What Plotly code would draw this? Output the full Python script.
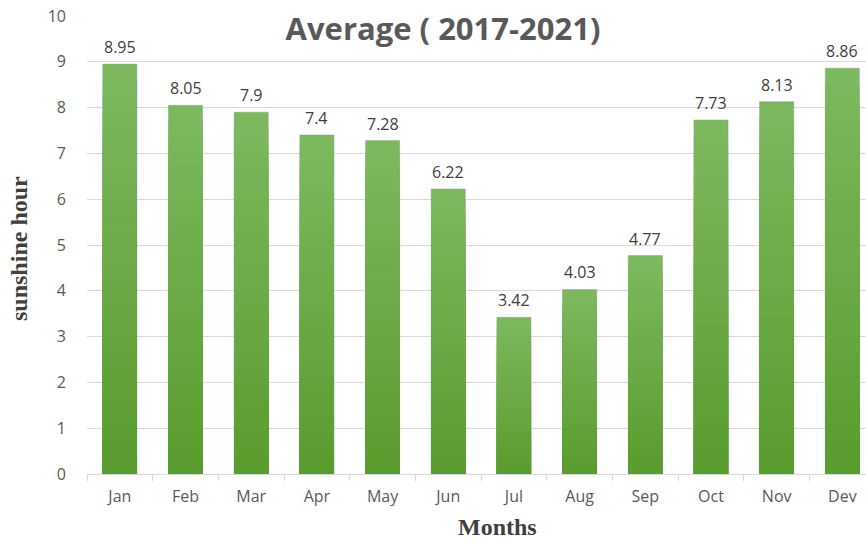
import plotly.graph_objects as go

months = ["Jan", "Feb", "Mar", "Apr", "May", "Jun", "Jul", "Aug", "Sep", "Oct", "Nov", "Dev"]
sunshine = [8.95, 8.05, 7.9, 7.4, 7.28, 6.22, 3.42, 4.03, 4.77, 7.73, 8.13, 8.86]

W, H = 866, 543
ML, MR, MT, MB = 87, 0, 16, 69

# Vertical gradient per bar: light green at the top, darker at the base.
top_rgb = (124, 184, 94)
bottom_rgb = (90, 156, 46)
steps = 24

fig = go.Figure()
for i in range(steps):
    frac = 1 - i / steps
    t = i / (steps - 1)
    r = round(top_rgb[0] + (bottom_rgb[0] - top_rgb[0]) * t)
    g = round(top_rgb[1] + (bottom_rgb[1] - top_rgb[1]) * t)
    b = round(top_rgb[2] + (bottom_rgb[2] - top_rgb[2]) * t)
    fig.add_trace(go.Bar(
        x=months,
        y=[v * frac for v in sunshine],
        width=0.52,
        marker=dict(color=f"rgb({r},{g},{b})",
                    line=dict(width=1 if i == 0 else 0, color="rgba(150,150,150,0.45)")),
        hoverinfo="skip" if i else None,
        showlegend=False,
    ))

for m, v in zip(months, sunshine):
    fig.add_annotation(x=m, y=v, text=f"{v:g}", showarrow=False, yshift=17,
                       font=dict(family="Open Sans", size=16, color="#404040"))

plot_w = W - ML - MR
plot_h = H - MT - MB

# Axis titles placed as paper annotations
fig.add_annotation(xref="paper", yref="paper",
                   x=(497 - ML) / plot_w, y=-(527 - (H - MB)) / plot_h,
                   xanchor="center", yanchor="middle", showarrow=False,
                   text="<b>Months</b>",
                   font=dict(family="Liberation Serif", size=24, color="#404040"))
fig.add_annotation(xref="paper", yref="paper",
                   x=(19 - ML) / plot_w, y=((H - MB) - 249) / plot_h,
                   xanchor="center", yanchor="middle", showarrow=False,
                   textangle=-90, text="<b>sunshine hour</b>",
                   font=dict(family="Liberation Serif", size=24, color="#404040"))

fig.update_layout(
    width=W, height=H,
    margin=dict(l=ML, r=MR, t=MT, b=MB),
    paper_bgcolor="white", plot_bgcolor="white",
    barmode="overlay",
    title=dict(text="<b>Average ( 2017-2021)</b>", x=443 / W, xanchor="center",
               y=1 - 29 / H, yanchor="middle",
               font=dict(family="Open Sans", size=31, color="#595959")),
    xaxis=dict(
        range=[-0.5, 11.36],
        showline=True, linecolor="#d9d9d9", linewidth=1,
        ticks="outside", tickson="boundaries", ticklen=6, tickcolor="#d9d9d9",
        ticklabelstandoff=8,
        tickfont=dict(family="Open Sans", size=16, color="#595959"),
    ),
    yaxis=dict(
        range=[0, 10], dtick=1,
        showgrid=True, gridcolor="#d9d9d9", gridwidth=1,
        zeroline=False, showline=False,
        ticklabelstandoff=20,
        tickfont=dict(family="Open Sans", size=16, color="#595959"),
    ),
)

fig.write_html("out.html")
